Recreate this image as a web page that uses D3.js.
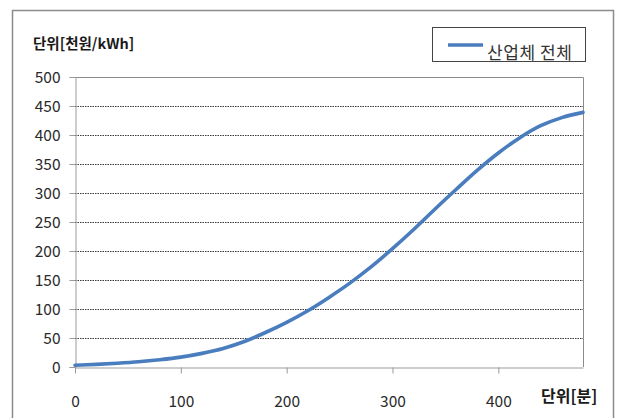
<!DOCTYPE html>
<html>
<head>
<meta charset="utf-8">
<script src="https://cdn.jsdelivr.net/npm/d3@7"></script>
<style>
  html, body { margin: 0; padding: 0; background: #fff; }
  svg { display: block; }
  text { font-family: "Noto Sans CJK KR", "Noto Sans", sans-serif; }
</style>
</head>
<body>
<script>
// Elapsed time (minutes) and cumulative cost for the whole industry sector
const minutes = [0, 20, 40, 60, 80, 100, 120, 140, 160, 180, 200, 220, 240, 260, 280, 300, 320, 340, 360, 380, 400, 420, 440, 460, 480];
const costAll = [3, 4.5, 6.5, 9, 12.5, 17, 23.5, 32, 44, 59.5, 77, 97, 120, 145, 173, 204, 237, 272, 306, 339, 369, 395, 416, 430, 439];
const seriesName = "산업체 전체";
const yTicks = [0, 50, 100, 150, 200, 250, 300, 350, 400, 450, 500];
const xTicks = [0, 100, 200, 300, 400];
const yUnitLabel = "단위[천원/kWh]";
const xUnitLabel = "단위[분]";

const W = 617, H = 418;
const plot = { left: 75, right: 583, top: 77, bottom: 367 };

const svg = d3.select("body").append("svg").attr("width", W).attr("height", H);

// outer chart frame
svg.append("rect")
  .attr("x", 12.5).attr("y", 10.5)
  .attr("width", 601).attr("height", 420)
  .attr("fill", "none").attr("stroke", "#8c8c8c").attr("stroke-width", 1.5);

const x = d3.scaleLinear().domain([0, 480]).range([plot.left, plot.right]);
const y = d3.scaleLinear().domain([0, 500]).range([plot.bottom, plot.top]);

// dotted horizontal gridlines
svg.append("g")
  .selectAll("line")
  .data(yTicks.filter(v => v > 0 && v < 500))
  .join("line")
  .attr("x1", plot.left).attr("x2", plot.right)
  .attr("y1", d => Math.round(y(d)) + 0.5).attr("y2", d => Math.round(y(d)) + 0.5)
  .attr("stroke", "#3a3a3a").attr("stroke-width", 1)
  .attr("stroke-dasharray", "1.5,1");

// plot area border: top and right
svg.append("path")
  .attr("d", `M${plot.left},${y(500) + 0.5}H${plot.right + 0.5}V${plot.bottom}`)
  .attr("fill", "none").attr("stroke", "#8c8c8c").attr("stroke-width", 1);

// y axis
const yAxis = svg.append("g")
  .attr("transform", `translate(${plot.left + 0.5},0)`)
  .call(d3.axisLeft(y).tickValues(yTicks).tickSize(6).tickPadding(9));
yAxis.select(".domain").attr("stroke", "#9a9a9a");
yAxis.selectAll(".tick line").attr("stroke", "#9a9a9a");
yAxis.selectAll(".tick text")
  .attr("fill", "#2a2a2a").style("font-size", "15.5px")
  .attr("dy", "0.36em");

// x axis
const xAxis = svg.append("g")
  .attr("transform", `translate(0,${plot.bottom + 0.5})`)
  .call(d3.axisBottom(x).tickValues(xTicks).tickSize(6).tickSizeOuter(0).tickPadding(22));
xAxis.select(".domain").attr("stroke", "#9a9a9a");
xAxis.selectAll(".tick line").attr("stroke", "#9a9a9a");
xAxis.selectAll(".tick text")
  .attr("fill", "#2a2a2a").style("font-size", "15.5px");

// cost curve
const line = d3.line()
  .x((d, i) => x(minutes[i]))
  .y(d => y(d))
  .curve(d3.curveCatmullRom.alpha(0.5));

svg.append("path")
  .datum(costAll)
  .attr("d", line)
  .attr("fill", "none")
  .attr("stroke", "#4a7dbd")
  .attr("stroke-width", 3.6)
  .attr("stroke-linecap", "round");

// unit labels
svg.append("text")
  .attr("x", 33).attr("y", 48.5)
  .attr("fill", "#1a1a1a")
  .style("font-size", "14.5px").style("font-weight", "bold")
  .text(yUnitLabel);

svg.append("text")
  .attr("x", 541).attr("y", 402)
  .attr("fill", "#1a1a1a")
  .style("font-size", "16px").style("font-weight", "bold")
  .text(xUnitLabel);

// legend
const legend = svg.append("g");
legend.append("rect")
  .attr("x", 432.5).attr("y", 27.5)
  .attr("width", 153).attr("height", 34)
  .attr("fill", "#fff").attr("stroke", "#444").attr("stroke-width", 1);
legend.append("line")
  .attr("x1", 448).attr("x2", 483)
  .attr("y1", 45).attr("y2", 45)
  .attr("stroke", "#4a7dbd").attr("stroke-width", 3.6);
legend.append("text")
  .attr("x", 487).attr("y", 59)
  .attr("fill", "#333")
  .style("font-size", "17px")
  .attr("textLength", 85)
  .text(seriesName);
</script>
</body>
</html>
